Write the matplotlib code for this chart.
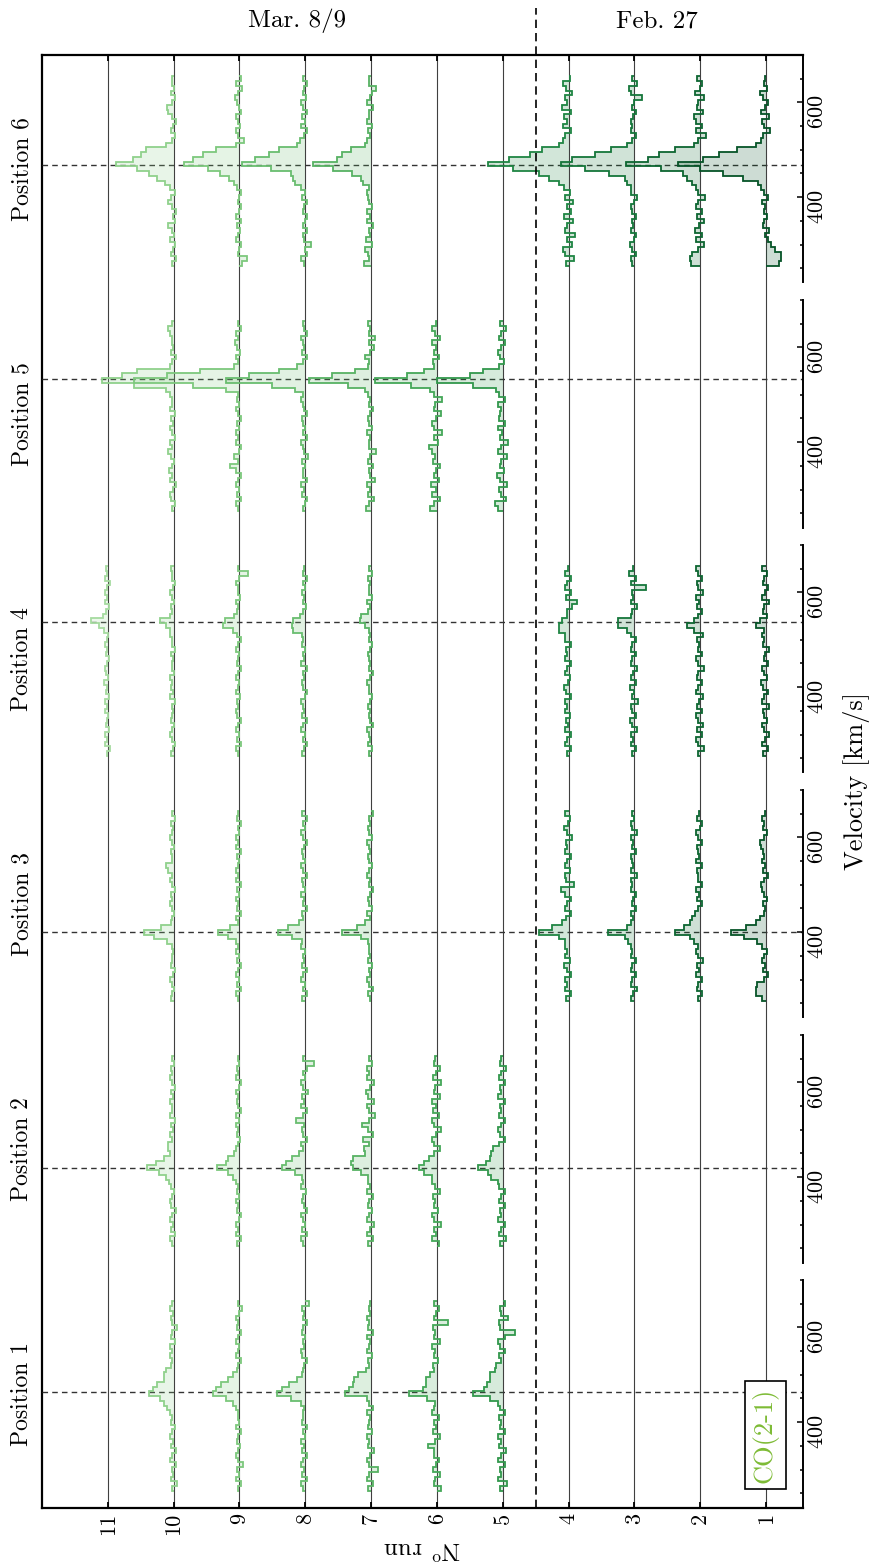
import numpy as np
import matplotlib
matplotlib.use("Agg")
import matplotlib.pyplot as plt
from matplotlib import transforms
from matplotlib.lines import Line2D

plt.rcParams['font.family'] = ['cmr10', 'DejaVu Serif']
plt.rcParams['mathtext.fontset'] = 'cm'
plt.rcParams['axes.formatter.use_mathtext'] = True

# ---------------------------------------------------------------- data
runs = [1, 2, 3, 4, 5, 6, 7, 8, 9, 10, 11]
epoch_labels = ["Mar. 8/9", "Feb. 27"]
position_names = ["Position 1", "Position 2", "Position 3",
                  "Position 4", "Position 5", "Position 6"]
line_label = "CO(2-1)"

# systemic velocity marker of each position [km/s]
v_sys = [463, 420, 400, 537, 533, 467]

# spectral channels: 40 channels of 10 km/s starting at 255 km/s
chan_start = 255
chan_width = 10
n_chan = 40

# line intensity per channel (arbitrary units, 100 = one run spacing),
# channel 0 is the lowest velocity
spec_pos1 = {
    10: [2, -5, 4, 1, 3, -4, 5, 2, -3, 4,
         1, 5, 3, -2, 4, 2, 6, 10, 14, 20,
         37, 32, 25, 15, 15, 12, 4, 2, 6, 3,
         5, -2, 4, 3, -5, 2, 4, 1, 6, 3],
    9: [3, -2, 5, 1, 4, -6, 2, 5, 3, -1,
        4, 2, -3, 5, 1, 3, 2, 6, 10, 21,
        41, 36, 28, 18, 10, 4, 2, -2, 5, 3,
        1, 6, 3, -3, 4, 2, 5, 1, -4, 3],
    8: [4, 6, -2, 5, 2, 7, 3, -3, 5, 2,
        6, 1, 4, -2, 5, 3, 4, 2, 6, 22,
        43, 35, 25, 12, 5, 4, 2, -3, 5, 6,
        2, 4, 1, 5, 3, -2, 4, 2, 5, -6],
    7: [5, -3, 6, 3, -11, 4, 6, 2, -4, 5,
        3, 7, -2, 5, 4, 2, 6, -3, 4, 6,
        39, 33, 28, 26, 20, 8, 3, 5, -2, 6,
        4, 2, 7, -3, 5, 3, 6, 1, 4, 2],
    6: [-6, 5, 3, -4, 6, 2, -3, 5, 4, 14,
        3, -5, 6, 2, 4, -3, 7, 5, 3, 15,
        42, 22, 17, 17, 10, 4, 6, -2, 5, 3,
        7, -4, 5, 3, 6, -16, 4, 2, -3, 5],
    5: [4, -6, 7, 3, 5, -4, 8, 2, -5, 6,
        3, 7, -3, 5, 2, 6, -4, 5, 8, 20,
        46, 28, 24, 20, 20, 12, 10, 3, 6, -4,
        5, 7, -3, -19, 4, 6, -8, 3, 5, -4],
}

spec_pos2 = {
    10: [3, 5, -2, 4, 1, 6, 2, -3, 4, 5,
         2, -1, 4, 7, 12, 22, 41, 27, 14, 5,
         8, 8, 3, 6, 1, 4, -2, 5, 3, 2,
         6, 1, 4, -2, 3, 5, 2, 4, -1, 3],
    9: [4, -2, 5, 2, 6, 1, -3, 4, 3, 5,
        1, 4, 2, 6, 10, 18, 34, 20, 18, 8,
        5, 2, -1, 4, 3, 6, 1, 5, -2, 3,
        4, 2, 6, 1, -2, 5, 3, 4, 1, 2],
    8: [3, 6, -2, 5, 1, 4, 7, -3, 2, 5,
        4, -1, 6, 3, 5, 15, 36, 30, 20, 10,
        4, 6, -2, 3, 5, 2, 14, 4, -3, 6,
        2, 5, -4, 3, 6, 1, 4, -2, -13, 3],
    7: [5, -3, 6, 2, -4, 7, 3, -2, 5, 4,
        -3, 6, 2, 5, 5, 16, 28, 31, 28, 10,
        11, 4, 12, -3, 5, 14, 3, -6, 4, 7,
        -4, 5, 8, 2, -5, 6, 3, 7, -2, 4],
    6: [-3, 7, 2, 5, -6, 4, 8, -2, 5, 3,
        6, -4, 3, 7, 8, 20, 27, 19, 12, 5,
        -5, 4, 7, 2, -6, 5, 8, -3, 6, 2,
        7, -4, 5, 3, -6, 6, 2, -5, 4, 3],
    5: [4, -5, 6, 3, -4, 7, 2, 5, -3, 6,
        3, -4, 6, 8, 18, 22, 37, 25, 20, 18,
        15, 6, -3, 5, 8, 2, -4, 6, 3, 5,
        -3, 7, 2, 5, -4, 6, 3, -5, 4, 2],
}

spec_pos3 = {
    10: [4, 2, -1, 3, 5, 1, -2, 4, 3, 2,
         1, 3, 10, 30, 45, 19, 4, 2, -1, 3,
         5, 2, 4, -2, 3, 6, 2, 8, 11, 3,
         2, 4, -1, 3, 5, 2, 1, 4, -2, 3],
    9: [3, 5, -2, 4, 1, 6, 2, -3, 4, 1,
        5, 2, 5, 17, 33, 15, 3, 6, -2, 4,
        2, 5, 1, 4, -3, 6, 2, 5, 3, 1,
        4, -2, 5, 2, 6, 1, 3, -3, 4, 2],
    8: [5, -2, 4, 1, 6, 3, -3, 5, 2, 4,
        1, 6, 5, 20, 42, 27, 10, 3, 5, -2,
        4, 2, 6, 1, 3, 5, -2, 4, 6, 1,
        3, 5, 2, -3, 4, 6, 1, 3, -2, 5],
    7: [2, 5, -3, 4, 6, 1, 3, -2, 5, 2,
        4, 3, 5, 15, 45, 22, 10, 2, 6, -1,
        3, 5, 2, -3, 4, 1, 6, 3, -2, 4,
        5, 2, 4, 6, -1, 3, 5, 2, 4, -3],
    4: [4, -3, 6, 2, 5, -4, 3, 7, -2, 5,
        2, 6, 6, 15, 45, 26, 10, 4, -3, 6,
        3, -4, 5, 12, -8, 4, 6, -2, 5, 3,
        -3, 6, 2, 4, -5, 3, 7, 1, -2, 5],
    3: [5, 2, -4, 6, 3, -2, 5, 4, -3, 6,
        3, 5, 10, 15, 40, 12, 5, 2, 6, -3,
        4, 2, -2, 5, 3, 6, -4, 5, 2, 4,
        6, -3, 4, 2, 5, -4, 3, 6, 1, 4],
    2: [3, -2, 5, 4, -3, 6, 2, 5, -4, 3,
        6, 4, 10, 15, 39, 25, 15, 12, 8, 4,
        -3, 5, 2, 6, -2, 4, 3, 5, -3, 6,
        2, 4, 5, -2, 3, 6, 1, -3, 5, 2],
    1: [6, 15, 16, 14, 4, -3, 5, 2, 6, 3,
        -2, 6, 14, 33, 54, 30, 15, 10, 4, 2,
        5, -2, 3, 6, 8, 4, -3, 5, 2, 6,
        3, 5, 8, 10, 4, -2, 5, 3, 6, 2],
}

spec_pos4 = {
    11: [2, -3, 4, 1, 5, -2, 3, 2, -1, 4,
         1, 5, -2, 3, 2, 6, -1, 3, 4, 1,
         -2, 3, 1, 4, 2, -1, 6, 14, 25, 8,
         3, -2, 4, 1, 5, 2, -3, 4, 1, 3],
    10: [4, 1, -2, 3, 5, 2, -1, 4, 3, 1,
         3, -2, 5, 1, 4, 2, 6, -1, 3, 2,
         1, 4, -2, 3, 2, 5, 5, 12, 20, 5,
         2, 4, -1, 3, 6, 1, -2, 3, 2, 4],
    9: [3, 6, -2, 4, 1, 5, 2, -3, 4, 6,
        2, 4, -1, 5, 3, 1, 6, 2, -2, 4,
        3, 1, 5, 2, -2, 4, 10, 25, 22, 8,
        4, 2, 6, -1, 3, 2, 5, 1, -13, 3],
    8: [5, 2, -3, 4, 1, 6, 3, -2, 5, 2,
        4, 7, 1, -2, 3, 5, 2, 4, -3, 6,
        2, 4, 1, 5, 3, 5, 18, 20, 18, 8,
        3, -1, 4, 2, 5, 1, 3, -2, 4, 2],
    7: [4, -2, 5, 1, 3, 6, -3, 2, 4, 1,
        5, 2, -2, 4, 3, 6, 1, -3, 4, 2,
        3, 5, 1, -2, 4, 2, 3, 10, 17, 15,
        5, 2, 6, -1, 3, 4, 1, 5, -2, 3],
    4: [3, -4, 6, 2, -3, 5, 1, 4, -2, 6,
        2, 5, -3, 4, 7, 1, -2, 5, 3, -4,
        6, 2, 4, -3, 5, 5, 14, 15, 10, 3,
        2, -5, -13, 4, -3, 6, 2, -4, 5, 1],
    3: [4, -3, 6, 2, 5, -4, 3, 7, -2, 4,
        6, -5, 3, 1, 7, -3, 5, 2, -4, 6,
        3, -2, 5, 4, -3, 6, 12, 25, 25, 5,
        3, -4, 6, 2, 4, -17, 5, -3, 8, 2],
    2: [3, -5, 4, 6, -2, 5, -4, 3, 7, -3,
        5, 2, -4, 6, 3, -2, 5, 4, -5, 3,
        6, -3, 4, 2, 5, -4, 10, 20, 10, 4,
        -3, 5, 2, 6, -4, 3, 5, -2, 4, 6],
    1: [5, -3, 6, 2, -5, 4, 7, -2, 3, 5,
        -4, 6, 3, -3, 5, 8, -2, 4, 6, -3,
        4, 2, -4, 5, 3, 6, 4, 16, 10, -2,
        5, 3, -4, 6, 2, -3, 5, 4, -2, 6],
}

spec_pos5 = {
    10: [3, -2, 4, 6, 1, -3, 5, 2, 7, 3,
         -1, 4, 8, 2, 5, -2, 3, 6, 1, 4,
         -2, 5, 3, 2, 6, 12, 60, 109, 78, 55,
         5, 2, -3, 4, 1, 3, 2, 5, 8, 2],
    9: [2, 5, -3, 4, 1, 6, 3, -2, 5, 14,
        3, 8, 1, -3, 5, 2, 6, 1, 4, -2,
        3, 5, 1, 4, 2, 20, 70, 160, 110, 60,
        8, 3, 6, -1, 4, 7, 2, 5, -2, 3],
    8: [4, 1, -3, 5, 2, 6, -2, 3, 4, 1,
        5, -4, 2, 3, 6, -2, 4, 1, 3, 5,
        -3, 2, 4, 6, 3, 15, 50, 120, 85, 40,
        12, 3, -2, 5, 2, 4, 7, -3, 2, 4],
    7: [8, 3, -4, 5, 1, 6, -6, 2, 4, -3,
        5, 2, -7, 3, 4, 1, 6, -2, 3, 5,
        2, -3, 4, 1, 5, 10, 35, 95, 60, 25,
        5, 3, 9, 2, -4, 3, -6, 4, 1, 5],
    6: [10, 4, -5, 7, 2, 9, -3, 5, 1, -4,
        6, 3, 7, 12, -2, 5, -8, 4, 8, 2,
        -6, 5, 3, -8, 4, 10, 40, 94, 45, 20,
        4, 6, -3, 5, 2, 8, -4, 3, 7, 2],
    5: [8, 12, -5, 3, 6, -7, 4, 9, -2, 5,
        3, -6, 8, 2, -8, 5, 1, 7, -4, 6,
        4, 2, 7, -3, 6, 10, 45, 100, 50, 30,
        6, -2, 5, 8, 3, -4, 6, 2, -5, 4],
}

spec_pos6 = {
    10: [2, -3, 4, 1, -2, 5, -1, 3, 8, -2,
         1, -3, 2, 9, 4, -2, 5, 13, 25, 38,
         55, 88, 62, 50, 42, 12, 3, -2, 4, 1,
         -3, 2, 9, 10, 3, -2, 4, -1, 3, 2],
    9: [-4, -12, 3, 1, -2, 6, 2, -1, 4, -3,
        5, 1, -2, 3, 1, -3, 4, 8, 16, 30,
        48, 84, 70, 55, 36, 5, -7, 2, 5, -1,
        3, 6, -2, 1, 4, 7, 2, -4, 5, -3],
    8: [2, 6, -3, 1, -8, 2, 4, -2, 3, 1,
        -2, 4, 2, -3, 5, 1, 6, 15, 18, 22,
        52, 96, 76, 55, 40, 13, 8, 2, -3, 6,
        1, 5, -2, 3, 7, -1, 4, 2, -3, 3],
    7: [11, 3, 5, 10, -2, 8, 1, 4, -3, 6,
        2, 7, -1, 3, 5, 6, 4, 12, 15, 29,
        58, 89, 52, 44, 30, 10, 6, 2, 5, -2,
        7, 4, 3, -3, 6, 2, -2, -7, 4, 3],
    4: [4, -8, 6, 9, -5, 3, -9, 5, 2, -6,
        7, -4, 3, -6, 5, -2, 7, 15, 30, 45,
        85, 123, 90, 58, 40, 15, 8, 5, -3, 9,
        2, 7, -4, 10, 3, 6, -5, 4, 8, -2],
    3: [3, 6, -2, 4, 7, 1, -3, 5, 2, 4,
        -2, 3, 5, 1, -4, 6, 5, 12, 15, 38,
        75, 112, 95, 60, 35, 12, 4, -2, 5, 3,
        6, 2, -3, 4, 1, -12, 5, 8, -4, 3],
    2: [14, 15, 12, 4, -6, 6, -3, 8, 2, -5,
        5, -3, 6, 4, -7, 3, 6, 12, 20, 27,
        60, 113, 80, 62, 38, 10, 4, -8, 6, -3,
        7, 10, -4, 5, 3, -6, 8, 1, -2, 5],
    1: [-20, -23, -22, -13, -8, -3, 2, -4, 5, 3,
        -2, 4, 1, 6, -3, 4, 8, 12, 35, 66,
        100, 134, 96, 72, 45, 15, 8, 5, -6, 3,
        6, -4, 8, 2, -3, 5, 9, -2, 4, 1],
}

spectra = [spec_pos1, spec_pos2, spec_pos3, spec_pos4, spec_pos5, spec_pos6]

# line colour of each run (light = March, dark = February)
run_colors = {11: '#a6dba0', 10: '#90d18c', 9: '#7dc87d', 8: '#69bd6f',
              7: '#57b263', 6: '#44a758', 5: '#32974c', 4: '#1f8543',
              3: '#15763a', 2: '#0d6631', 1: '#065428'}

# ---------------------------------------------------------------- layout
W, H = 874, 1567
frame_left, frame_right = 42, 803
frame_top, frame_bottom = 55, 1507.5
panel_h, panel_step = 227.5, 245
run_lim = (12.0, 0.44)
vel_lim = (220, 700)
int_scale = 0.01


def fx(px):
    return px / W


def fy(py):
    return 1 - py / H


fig = plt.figure(figsize=(W / 100, H / 100), dpi=100)
fig.patch.set_facecolor('white')

# background frame holding the run axis
bg = fig.add_axes([fx(frame_left), fy(frame_bottom),
                   fx(frame_right) - fx(frame_left),
                   (frame_bottom - frame_top) / H])
bg.set_xlim(*run_lim)
bg.set_ylim(0, 1)
for r in runs:
    bg.axvline(r, color='0.25', lw=0.8, zorder=0)
for side in ('left', 'top', 'bottom'):
    bg.spines[side].set_linewidth(1.6)
bg.spines['right'].set_visible(False)
bg.set_yticks([])
bg.set_xticks(runs)
bg.set_xticklabels([str(r) for r in runs])
bg.tick_params(axis='x', which='major', direction='in', top=True,
               bottom=True, length=4, width=1.3, labelsize=16,
               labelrotation=90, pad=4)

# dashed separator between the two observing epochs
sep_tr = transforms.blended_transform_factory(bg.transData, fig.transFigure)
fig.add_artist(Line2D([4.5, 4.5], [fy(frame_bottom), fy(8)],
                      transform=sep_tr, color='black', lw=1.2,
                      dashes=(5, 3)))

edges = chan_start + chan_width * np.arange(n_chan + 1)

panel_order = [6, 5, 4, 3, 2, 1]
for k, pos in enumerate(panel_order):
    top = frame_top + k * panel_step
    ax = fig.add_axes([fx(frame_left), fy(top + panel_h),
                       fx(frame_right) - fx(frame_left), panel_h / H])
    ax.patch.set_visible(False)
    ax.set_xlim(*run_lim)
    ax.set_ylim(*vel_lim)
    for side in ('left', 'top', 'bottom'):
        ax.spines[side].set_visible(False)
    ax.spines['right'].set_linewidth(1.4)
    ax.set_xticks([])
    ax.yaxis.tick_right()
    ax.set_yticks([400, 600])
    ax.set_yticks(np.arange(250, 701, 50), minor=True)
    ax.tick_params(axis='y', which='major', direction='in', length=4,
                   width=1.1, labelsize=16, labelrotation=90, pad=3)
    ax.tick_params(axis='y', which='minor', direction='in', length=2.5,
                   width=1.1)

    ax.axhline(v_sys[pos - 1], color='0.2', lw=1.0, dashes=(4, 3), zorder=1)

    for run, vals in spectra[pos - 1].items():
        xs = run + np.asarray(vals, dtype=float) * int_scale
        col = run_colors[run]
        ax.stairs(xs, edges, baseline=run, orientation='horizontal',
                  fill=True, color=col, alpha=0.2, lw=0, zorder=2)
        ax.stairs(xs, edges, baseline=run, orientation='horizontal',
                  fill=False, color=col, lw=1.3, zorder=3)

    fig.text(fx(22), fy(top + panel_h / 2), position_names[pos - 1],
             rotation=90, ha='center', va='center', fontsize=17)

# epoch headers
fig.text(fx(297), fy(21), epoch_labels[0], ha='center', va='center',
         fontsize=18)
fig.text(fx(657), fy(21), epoch_labels[1], ha='center', va='center',
         fontsize=18)

# axis titles
fig.text(fx(857), fy((frame_top + frame_bottom) / 2), 'Velocity [km/s]',
         rotation=90, ha='center', va='center', fontsize=19)
fig.text(fx((frame_left + frame_right) / 2), fy(1547), r'N$^{\rm o}$ run',
         rotation=180, ha='center', va='center', fontsize=18)

# transition label
fig.text(fx(765.5), fy(1435), line_label, rotation=90, ha='center',
         va='center', fontsize=19, color='#7dbb35',
         bbox=dict(boxstyle='square,pad=0.25', fc='white', ec='black',
                   lw=1.2))

fig.savefig('out.png', dpi=100, facecolor='white')
